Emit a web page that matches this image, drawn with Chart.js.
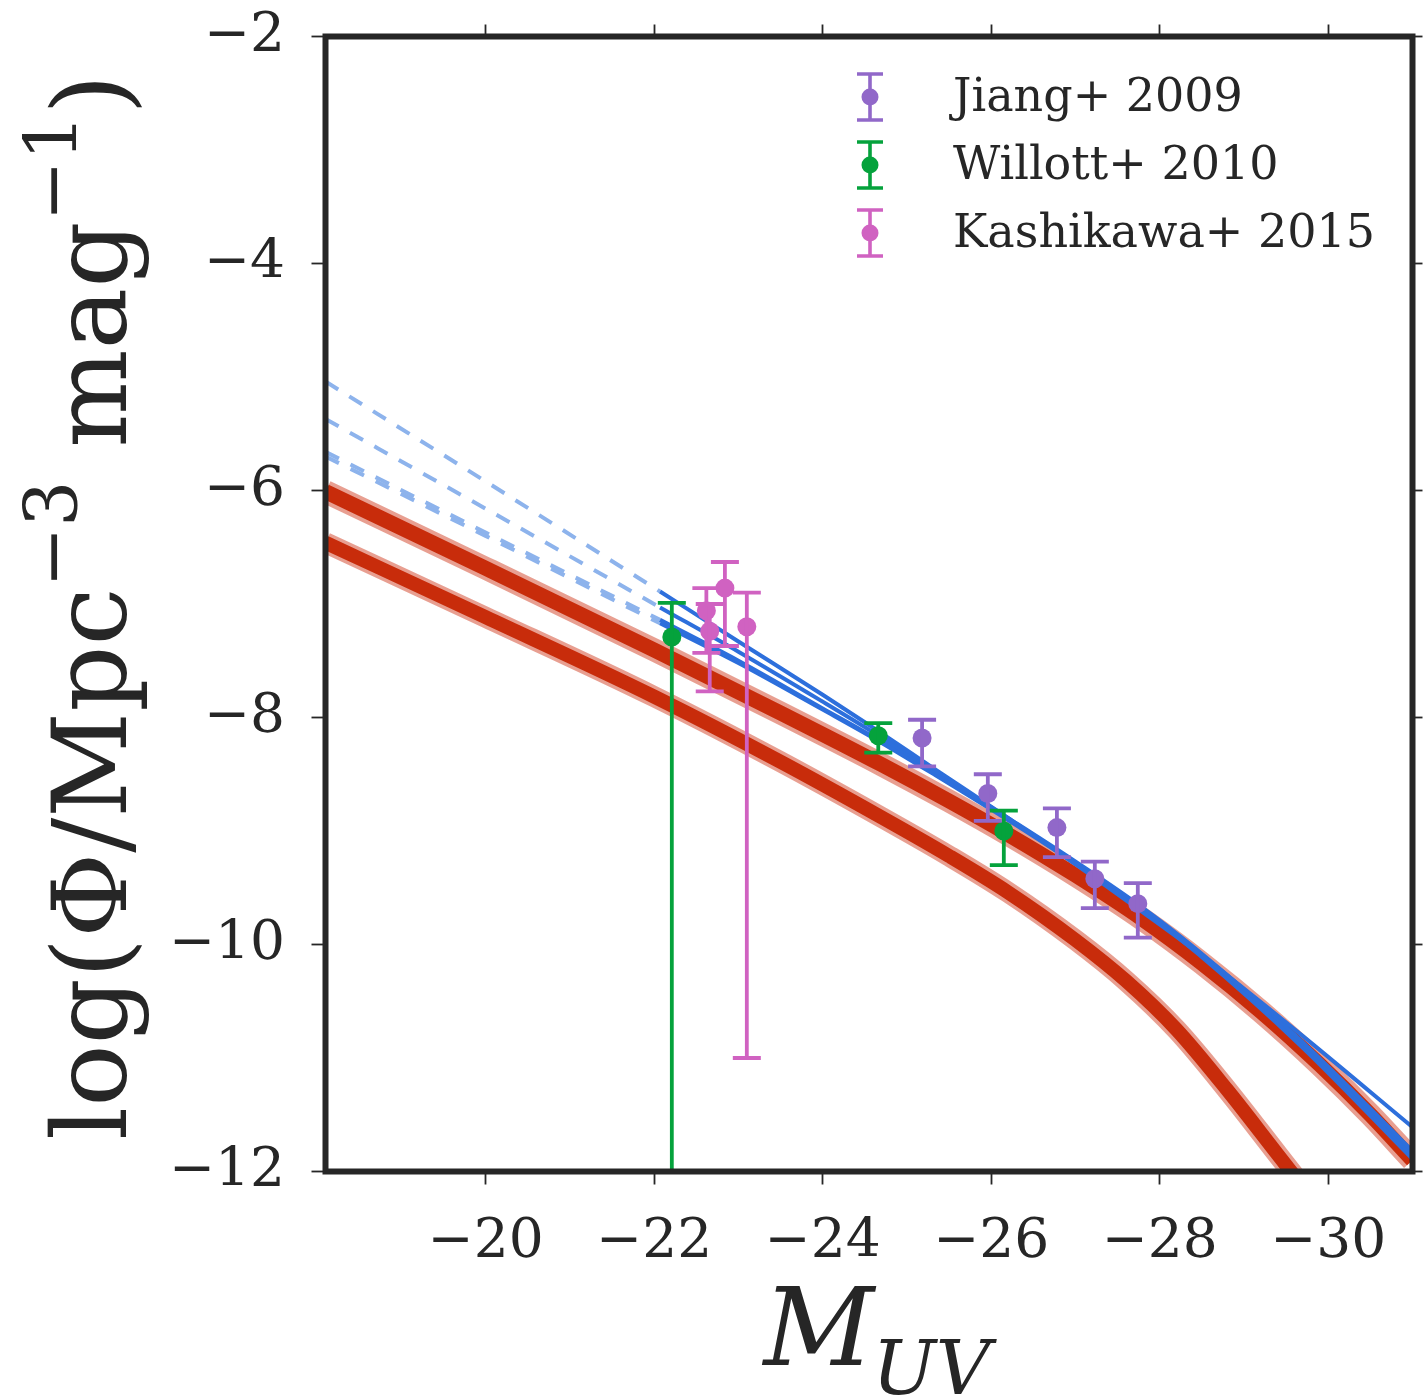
<!DOCTYPE html>
<html>
<head>
<meta charset="utf-8">
<script src="https://cdn.jsdelivr.net/npm/chart.js@4.4.1/dist/chart.umd.min.js"></script>
<style>
  html, body { margin: 0; padding: 0; background: #ffffff; }
  canvas { display: block; }
</style>
</head>
<body>
<canvas id="chart" width="1425" height="1398"></canvas>
<script>
// ---------------- data ----------------
const xTickValues = [-20, -22, -24, -26, -28, -30];
const xTickLabels = ['\u221220', '\u221222', '\u221224', '\u221226', '\u221228', '\u221230'];
const yTickValues = [-12, -10, -8, -6, -4, -2];
const yTickLabels = ['\u221212', '\u221210', '\u22128', '\u22126', '\u22124', '\u22122'];

const seriesLabels = ['Jiang+ 2009', 'Willott+ 2010', 'Kashikawa+ 2015'];

// upper red model band (centre line)
const redUpperM   = [-18.1, -20.0, -22.0, -23.5, -24.7, -25.5, -26.2, -27.0, -27.8, -28.5, -29.2, -29.9, -30.5, -31.0];
const redUpperPhi = [-6.01, -6.685, -7.405, -7.96, -8.416, -8.736, -9.03, -9.39, -9.78, -10.165, -10.59, -11.06, -11.50, -11.90];
// lower red model band (centre line)
const redLowerM   = [-18.1, -20.0, -22.0, -23.5, -24.7, -25.5, -26.2, -27.0, -27.6, -28.2, -28.8, -29.4, -29.8];
const redLowerPhi = [-6.46, -7.116, -7.816, -8.39, -8.88, -9.22, -9.54, -9.96, -10.32, -10.75, -11.28, -11.85, -12.23];

// blue fits: dashed extrapolation (faint side) and solid part
const blueDashM  = [-18.1, -20.0, -22.07];
const blueDashA  = [-5.04, -5.92, -6.89];
const blueDashB  = [-5.37, -6.16, -7.03];
const blueDashC  = [-5.66, -6.37, -7.14];
const blueDashD  = [-5.70, -6.40, -7.17];
const blueSolidM = [-22.07, -23.0, -24.0, -24.6, -25.34, -26.19, -26.9, -27.75, -28.45, -29.67, -31.0];
const blueSolidA = [-6.89, -7.33, -7.80, -8.09, -8.46, -8.88, -9.24, -9.69, -10.07, -10.79, -11.61];
const blueSolidB = [-7.03, -7.42, -7.86, -8.13, -8.48, -8.88, -9.22, -9.65, -10.05, -10.84, -11.82];
const blueSolidC = [-7.14, -7.50, -7.92, -8.17, -8.50, -8.89, -9.23, -9.66, -10.07, -10.87, -11.86];
const blueSolidD = [-7.17, -7.52, -7.93, -8.18, -8.51, -8.90, -9.24, -9.67, -10.08, -10.89, -11.89];

// data points with error bars
const jiangM    = [-25.18, -25.96, -26.78, -27.23, -27.74];
const jiangPhi  = [-8.18, -8.67, -8.97, -9.42, -9.64];
const jiangHi   = [-8.02, -8.50, -8.80, -9.27, -9.46];
const jiangLo   = [-8.43, -8.91, -9.23, -9.68, -9.94];

const willottM   = [-22.21, -24.66, -26.15];
const willottPhi = [-7.29, -8.16, -9.00];
const willottHi  = [-6.99, -8.05, -8.82];
const willottLo  = [-13.0, -8.31, -9.30];

const kashiM   = [-22.62, -22.66, -22.84, -23.10];
const kashiPhi = [-7.06, -7.24, -6.86, -7.20];
const kashiHi  = [-6.86, -7.00, -6.63, -6.90];
const kashiLo  = [-7.43, -7.77, -7.37, -11.00];

// ---------------- styles ----------------
const INK = '#262626';
const JIANG_C = '#9168c9';
const WILLOTT_C = '#05a23c';
const KASHI_C = '#d062c1';
const BLUE = '#2d6fdc';
const BLUE_DASH = '#8db3ec';
const RED_EDGE = 'rgba(214, 80, 55, 0.55)';
const RED_CORE = 'rgba(198, 38, 4, 0.95)';
const SERIF = '"DejaVu Serif", serif';

function pts(xs, ys) { return xs.map((x, i) => ({ x: x, y: ys[i] })); }

function lineDs(xs, ys, color, width, order, dash) {
  return {
    data: pts(xs, ys), borderColor: color, borderWidth: width, borderDash: dash || [],
    pointRadius: 0, fill: false, cubicInterpolationMode: 'monotone', order: order, clip: 0
  };
}
function pointDs(xs, ys, color) {
  return {
    data: pts(xs, ys), showLine: false, pointRadius: 9.5, pointBackgroundColor: color,
    pointBorderWidth: 0, backgroundColor: color, borderColor: color, order: 0
  };
}

const errorSeries = [
  { m: jiangM, hi: jiangHi, lo: jiangLo, color: JIANG_C },
  { m: willottM, hi: willottHi, lo: willottLo, color: WILLOTT_C },
  { m: kashiM, hi: kashiHi, lo: kashiLo, color: KASHI_C }
];
const legendColors = [JIANG_C, WILLOTT_C, KASHI_C];

const datasets = [
  pointDs(jiangM, jiangPhi, JIANG_C),
  pointDs(willottM, willottPhi, WILLOTT_C),
  pointDs(kashiM, kashiPhi, KASHI_C),
  lineDs(blueSolidM, blueSolidA, BLUE, 4, 1),
  lineDs(blueSolidM, blueSolidB, BLUE, 4, 1),
  lineDs(blueSolidM, blueSolidC, BLUE, 4, 1),
  lineDs(blueSolidM, blueSolidD, BLUE, 4, 1),
  lineDs(blueDashM, blueDashA, BLUE_DASH, 4, 2, [15, 13]),
  lineDs(blueDashM, blueDashB, BLUE_DASH, 4, 2, [15, 13]),
  lineDs(blueDashM, blueDashC, BLUE_DASH, 4, 2, [15, 13]),
  lineDs(blueDashM, blueDashD, BLUE_DASH, 4, 2, [15, 13]),
  lineDs(redUpperM, redUpperPhi, RED_CORE, 15, 3),
  lineDs(redLowerM, redLowerPhi, RED_CORE, 14, 3),
  lineDs(redUpperM, redUpperPhi, RED_EDGE, 23, 4),
  lineDs(redLowerM, redLowerPhi, RED_EDGE, 21, 4)
];

// ---------------- plugins ----------------
const errorBarPlugin = {
  id: 'errorBars',
  afterDatasetsDraw(chart) {
    const { ctx, chartArea: a, scales } = chart;
    const xs = scales.x, ys = scales.y;
    ctx.save();
    ctx.beginPath();
    ctx.rect(a.left, a.top, a.right - a.left, a.bottom - a.top);
    ctx.clip();
    ctx.lineWidth = 3.8;
    ctx.lineCap = 'butt';
    for (const s of errorSeries) {
      ctx.strokeStyle = s.color;
      for (let i = 0; i < s.m.length; i++) {
        const px = xs.getPixelForValue(s.m[i]);
        const pHi = ys.getPixelForValue(s.hi[i]);
        const pLo = ys.getPixelForValue(s.lo[i]);
        ctx.beginPath();
        ctx.moveTo(px, pHi); ctx.lineTo(px, pLo);
        ctx.moveTo(px - 14, pHi); ctx.lineTo(px + 14, pHi);
        ctx.moveTo(px - 14, pLo); ctx.lineTo(px + 14, pLo);
        ctx.stroke();
      }
    }
    ctx.restore();
  }
};

const decorPlugin = {
  id: 'decor',
  afterDraw(chart) {
    const { ctx, chartArea: a } = chart;
    ctx.save();
    // frame
    ctx.strokeStyle = INK;
    ctx.lineWidth = 6;
    ctx.lineJoin = 'miter';
    ctx.strokeRect(a.left, a.top, a.right - a.left, a.bottom - a.top);

    // legend
    const iconX = 870, rowY0 = 97, rowStep = 68, textX = 953;
    ctx.font = '46px ' + SERIF;
    ctx.textAlign = 'left';
    ctx.textBaseline = 'middle';
    for (let i = 0; i < seriesLabels.length; i++) {
      const cy = rowY0 + i * rowStep;
      const c = legendColors[i];
      ctx.strokeStyle = c; ctx.fillStyle = c; ctx.lineWidth = 3.6;
      ctx.beginPath();
      ctx.moveTo(iconX, cy - 23); ctx.lineTo(iconX, cy + 23);
      ctx.moveTo(iconX - 13, cy - 23); ctx.lineTo(iconX + 13, cy - 23);
      ctx.moveTo(iconX - 13, cy + 23); ctx.lineTo(iconX + 13, cy + 23);
      ctx.stroke();
      ctx.beginPath(); ctx.arc(iconX, cy, 8.5, 0, Math.PI * 2); ctx.fill();
      ctx.fillStyle = INK;
      ctx.fillText(seriesLabels[i], textX, cy + 2);
    }

    // y-axis title: log(Φ/Mpc^-3 mag^-1), rotated
    const parts = [
      { t: 'log(\u03A6/Mpc', sup: false },
      { t: '\u22123', sup: true },
      { t: ' mag', sup: false },
      { t: '\u22121', sup: true },
      { t: ')', sup: false }
    ];
    const base = 100;
    const widthAt = (size) => {
      let w = 0;
      for (const p of parts) {
        ctx.font = (p.sup ? size * 0.7 : size) + 'px ' + SERIF;
        w += ctx.measureText(p.t).width;
      }
      return w;
    };
    const size = base * 1066 / widthAt(base);
    const total = widthAt(size);
    ctx.save();
    ctx.translate(126, 607);
    ctx.rotate(-Math.PI / 2);
    ctx.fillStyle = INK;
    ctx.textAlign = 'left';
    ctx.textBaseline = 'alphabetic';
    let cx = -total / 2;
    for (const p of parts) {
      ctx.font = (p.sup ? size * 0.7 : size) + 'px ' + SERIF;
      ctx.fillText(p.t, cx, p.sup ? -0.47 * size : 0);
      cx += ctx.measureText(p.t).width;
    }
    ctx.restore();

    // x-axis title: M_UV
    const mSize = 108;
    ctx.fillStyle = INK;
    ctx.textBaseline = 'alphabetic';
    ctx.font = 'italic ' + mSize + 'px ' + SERIF;
    const wM = ctx.measureText('M').width;
    ctx.font = 'italic ' + (mSize * 0.7) + 'px ' + SERIF;
    const wUV = ctx.measureText('UV').width;
    const startX = 878 - (wM + wUV) / 2;
    ctx.font = 'italic ' + mSize + 'px ' + SERIF;
    ctx.fillText('M', startX, 1365);
    ctx.font = 'italic ' + (mSize * 0.7) + 'px ' + SERIF;
    ctx.fillText('UV', startX + wM - 2, 1394);
    ctx.restore();
  }
};

// ---------------- chart ----------------
const tickFont = { family: SERIF, size: 55 };
function gridOpts(len) {
  return { display: true, drawOnChartArea: false, drawTicks: true, tickLength: len, tickWidth: 1.8, tickColor: INK };
}
function fixBox(dim, val) {
  return (s) => {
    s[dim] = val;
    s.paddingTop = 0; s.paddingBottom = 0; s.paddingLeft = 0; s.paddingRight = 0;
  };
}

new Chart(document.getElementById('chart'), {
  type: 'line',
  data: { datasets: datasets },
  options: {
    responsive: false,
    animation: false,
    devicePixelRatio: 1,
    events: [],
    layout: { padding: 0 },
    plugins: { legend: { display: false }, tooltip: { enabled: false } },
    scales: {
      x: {
        type: 'linear', position: 'bottom', reverse: true, min: -31, max: -18.1,
        afterBuildTicks: (s) => { s.ticks = xTickValues.map(v => ({ value: v })); },
        afterFit: fixBox('height', 226.5),
        grid: gridOpts(13), border: { display: false },
        ticks: {
          font: tickFont, color: INK, padding: 25, maxRotation: 0, autoSkip: false,
          callback: (v) => xTickLabels[xTickValues.indexOf(v)]
        }
      },
      x2: {
        type: 'linear', position: 'top', reverse: true, min: -31, max: -18.1,
        afterBuildTicks: (s) => { s.ticks = xTickValues.map(v => ({ value: v })); },
        afterFit: fixBox('height', 36.5),
        grid: gridOpts(12), border: { display: false },
        ticks: { display: false }
      },
      y: {
        type: 'linear', position: 'left', min: -12, max: -2,
        afterBuildTicks: (s) => { s.ticks = yTickValues.map(v => ({ value: v })); },
        afterFit: fixBox('width', 325.5),
        grid: gridOpts(14), border: { display: false },
        ticks: {
          font: tickFont, color: INK, padding: 26.5, autoSkip: false,
          callback: (v) => yTickLabels[yTickValues.indexOf(v)]
        }
      },
      y2: {
        type: 'linear', position: 'right', min: -12, max: -2,
        afterBuildTicks: (s) => { s.ticks = yTickValues.map(v => ({ value: v })); },
        afterFit: fixBox('width', 12.5),
        grid: gridOpts(10), border: { display: false },
        ticks: { display: false }
      }
    }
  },
  plugins: [errorBarPlugin, decorPlugin]
});
</script>
</body>
</html>
